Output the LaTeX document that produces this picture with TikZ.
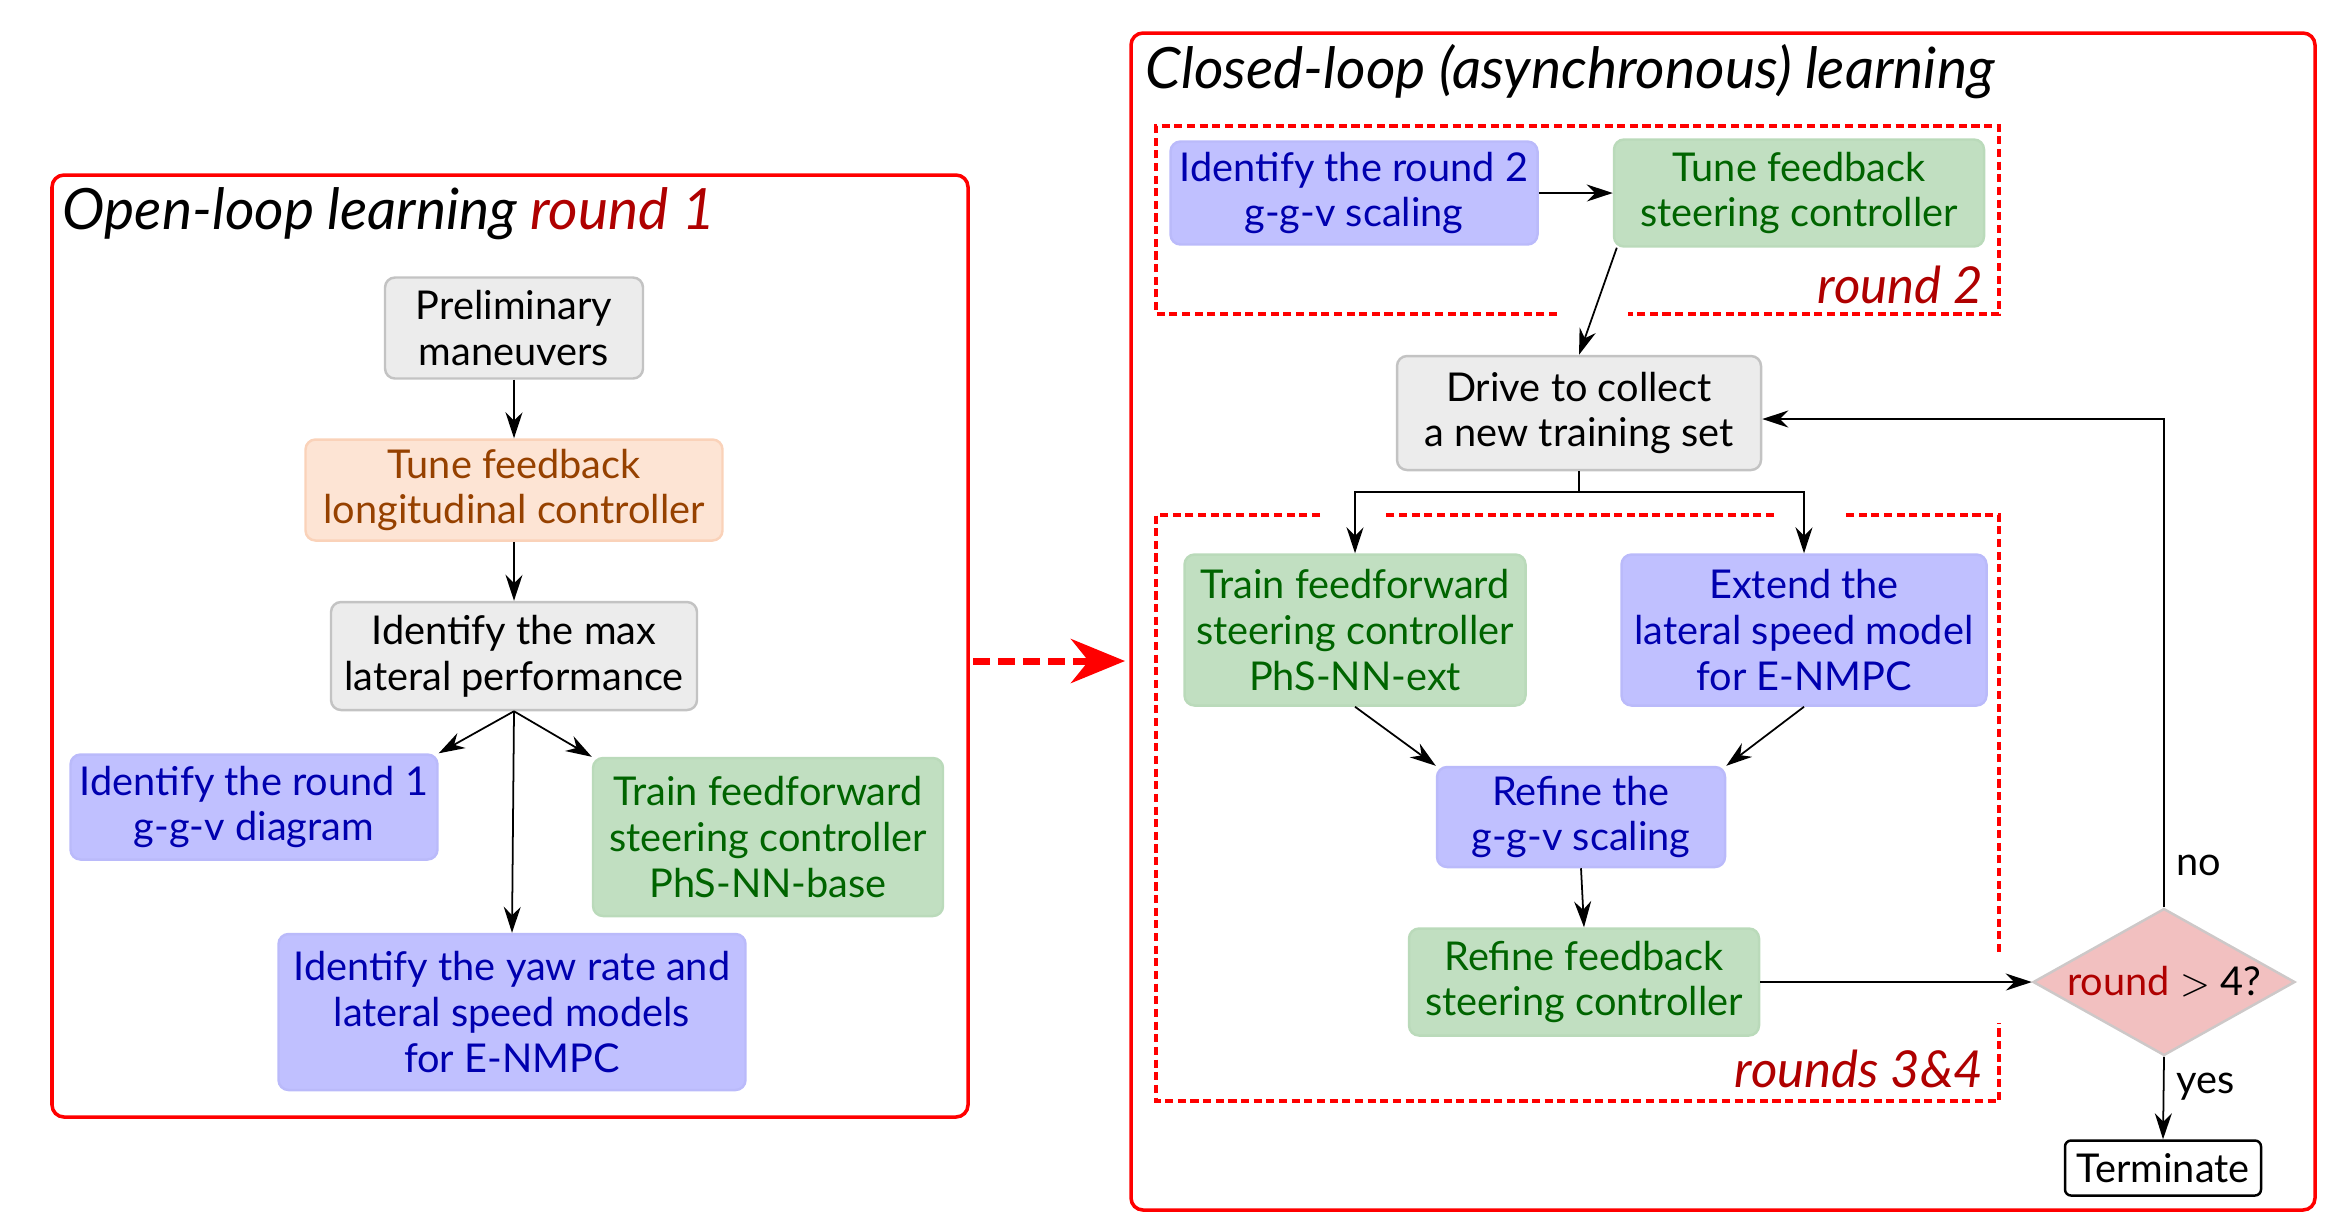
\documentclass[tikz,border=0pt]{standalone}
\usepackage{fontspec}
\setmainfont{Lato}
\usetikzlibrary{arrows.meta,shapes.geometric,calc}
\definecolor{gfill}{RGB}{236,236,236}
\definecolor{gdraw}{RGB}{195,195,195}
\definecolor{ofill}{RGB}{253,228,212}
\definecolor{odraw}{RGB}{250,210,185}
\definecolor{otext}{RGB}{150,65,0}
\definecolor{bfill}{RGB}{192,192,255}
\definecolor{bdraw}{RGB}{186,186,250}
\definecolor{btext}{RGB}{0,0,175}
\definecolor{grfill}{RGB}{193,223,193}
\definecolor{grdraw}{RGB}{186,218,186}
\definecolor{grtext}{RGB}{0,100,0}
\definecolor{pfill}{RGB}{242,192,192}
\definecolor{pdraw}{RGB}{205,200,200}
\definecolor{rdark}{RGB}{175,0,0}
\newcommand\bfnt{\fontsize{11.3}{13}\selectfont}
\newcommand\ttlfnt{\fontsize{16.2}{19}\selectfont\itshape}
\newcommand\lblfnt{\fontsize{14.5}{16}\selectfont\itshape}
\begin{document}
\begin{tikzpicture}[x=0.1mm,y=-0.1mm,
  box/.style={rounded corners=1mm, align=center, inner sep=0pt, font=\bfnt, line width=0.7pt},
  greybox/.style={box, fill=gfill, draw=gdraw, text=black},
  orangebox/.style={box, fill=ofill, draw=odraw, text=otext},
  bluebox/.style={box, fill=bfill, draw=bdraw, text=btext},
  greenbox/.style={box, fill=grfill, draw=grdraw, text=grtext},
  conn/.style={line width=0.5pt, -{Stealth[length=2.6mm,width=1.7mm]}},
  outerbox/.style={draw=red, line width=1pt, rounded corners=1.2mm},
  dashbox/.style={draw=red, line width=0.9pt, dash pattern=on 2.3pt off 1.3pt},
  plain/.style={font=\bfnt, inner sep=0pt}
]
\useasboundingbox (0,0) rectangle (2348,1213);

% outer frames
\draw[outerbox] (52,175) rectangle (968,1117);
\draw[outerbox] (1131,33) rectangle (2315,1210);

% titles
\node[anchor=west, font=\ttlfnt, inner sep=0pt] (t1) at (62,214) {Open-loop learning \textcolor{rdark}{round 1}};
\node[anchor=west, font=\ttlfnt, inner sep=0pt] (t2) at (1145,72) {Closed-loop (asynchronous) learning};

% left nodes
\node[greybox, minimum width=25.8mm, minimum height=10.1mm] (prelim) at (514,328) {Preliminary\\maneuvers};
\node[orangebox, minimum width=41.7mm, minimum height=10.1mm] (tunelong) at (514,490) {Tune feedback\\longitudinal controller};
\node[greybox, minimum width=36.6mm, minimum height=10.8mm] (maxlat) at (514,656) {Identify the max\\lateral performance};
\node[bluebox, minimum width=36.7mm, minimum height=10.5mm] (ggv1) at (254,807) {Identify the round 1\\g-g-v diagram};
\node[greenbox, minimum width=35mm, minimum height=15.8mm] (trainbase) at (768,837) {Train feedforward\\steering controller\\PhS-NN-base};
\node[bluebox, minimum width=46.7mm, minimum height=15.6mm] (yaw) at (512,1012) {Identify the yaw rate and\\lateral speed models\\for E-NMPC};

\draw[conn] (prelim.south) -- (tunelong.north);
\draw[conn] (tunelong.south) -- (maxlat.north);
\draw[conn] (maxlat.south) -- (ggv1.north east);
\draw[conn] (maxlat.south) -- (trainbase.north west);
\draw[conn] (maxlat.south) -- (yaw.north);

% transition arrow
\coordinate (ra) at (973,661);
\coordinate (rb) at (1125,661);
\draw[red, line width=2pt, dash pattern=on 4.8pt off 2.3pt, -{Stealth[length=5.4mm,width=4.4mm]}] (ra) -- (rb);

% dashed group frames
\draw[dashbox] (1557,314) -- (1156,314) -- (1156,126) -- (1999,126) -- (1999,314) -- (1628,314);
\draw[dashbox] (1320,515) -- (1156,515) -- (1156,1101) -- (1999,1101) -- (1999,1023);
\draw[dashbox] (1999,952) -- (1999,515) -- (1845,515);
\draw[dashbox] (1774,515) -- (1386,515);

\node[anchor=east, font=\lblfnt, text=rdark, inner sep=0pt] (r2) at (1984,285) {round 2};
\node[anchor=east, font=\lblfnt, text=rdark, inner sep=0pt] (r34) at (1984,1069) {rounds 3\&4};

% right nodes
\node[bluebox, minimum width=36.7mm, minimum height=10.3mm] (ggv2) at (1354,193) {Identify the round 2\\g-g-v scaling};
\node[greenbox, minimum width=37mm, minimum height=10.7mm] (tunesteer) at (1799,193) {Tune feedback\\steering controller};
\node[greybox, minimum width=36.4mm, minimum height=11.4mm] (drive) at (1579,413) {Drive to collect\\a new training set};
\node[greenbox, minimum width=34.1mm, minimum height=15.1mm] (trainext) at (1355,630) {Train feedforward\\steering controller\\PhS-NN-ext};
\node[bluebox, minimum width=36.5mm, minimum height=15.1mm] (extend) at (1804,630) {Extend the\\lateral speed model\\for E-NMPC};
\node[bluebox, minimum width=28.8mm, minimum height=10mm] (refineggv) at (1581,817) {Refine the\\g-g-v scaling};
\node[greenbox, minimum width=35mm, minimum height=10.7mm] (refinefb) at (1584,982) {Refine feedback\\steering controller};
\node[diamond, fill=pfill, draw=pdraw, line width=0.7pt, inner sep=0pt, aspect=1.78,
      minimum width=26.2mm, minimum height=14.7mm, font=\bfnt] (dia) at (2164,982)
      {\textcolor{rdark}{round} $>$ 4?};
\node[draw=black, fill=white, line width=0.7pt, rounded corners=0.6mm, font=\bfnt, inner sep=0pt,
      minimum width=19.6mm, minimum height=5.5mm] (term) at (2163,1168) {Terminate};

\draw[conn] (ggv2.east) -- (tunesteer.west);
\draw[conn] ($(tunesteer.south west)+(4,0)$) -- (drive.north);
\draw[line width=0.5pt] (drive.south) -- ++(0,21) coordinate (split);
\draw[conn] (split) -| (trainext.north);
\draw[conn] (split) -| (extend.north);
\draw[conn] (trainext.south) -- (refineggv.north west);
\draw[conn] (extend.south) -- (refineggv.north east);
\draw[conn] (refineggv.south) -- (refinefb.north);
\draw[conn] (refinefb.east) -- (dia.west);
\draw[conn] (dia.north) |- ($(drive.east)+(0,6)$);
\draw[conn] (dia.south) -- (term.north);
\node[plain, anchor=west] (nolab) at (2176,865) {no};
\node[plain, anchor=west] (yeslab) at (2176,1087) {yes};
\end{tikzpicture}
\end{document}
